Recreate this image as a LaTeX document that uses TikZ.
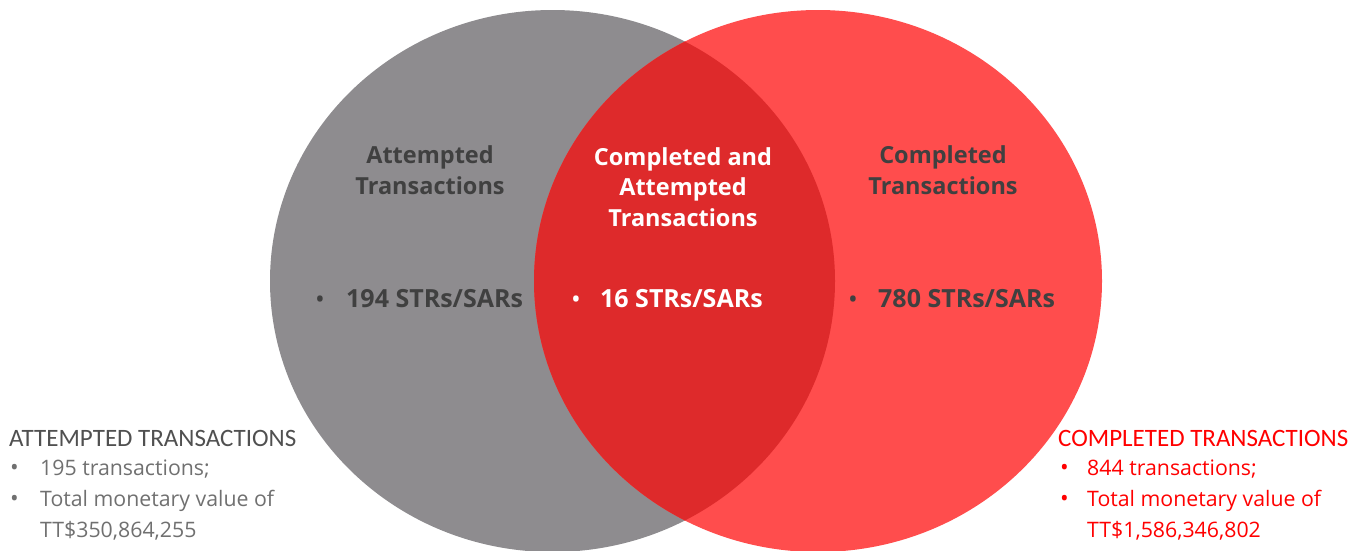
\documentclass[tikz,border=0pt]{standalone}
\usepackage{fontspec}
\setmainfont{Open Sans}
\newfontfamily\headfont{Carlito}
\definecolor{venngray}{RGB}{142,140,143}
\definecolor{vennred}{RGB}{255,77,77}
\definecolor{vennboth}{RGB}{222,42,43}
\definecolor{labeldark}{RGB}{64,64,64}
\definecolor{notegray}{RGB}{80,80,80}
\definecolor{notelight}{RGB}{112,112,112}
\definecolor{notered}{RGB}{255,0,0}
\tikzset{
  setlabel/.style={font=\fontsize{23.5}{30.5}\selectfont\bfseries, align=center, inner sep=0pt, anchor=center},
  countlabel/.style={font=\fontsize{25}{28}\selectfont\bfseries, inner sep=0pt, anchor=west},
  dot/.style={font=\fontsize{26}{28}\selectfont, inner sep=0pt, anchor=center},
  notehead/.style={font=\headfont\fontsize{25}{28}\selectfont, inner sep=0pt, anchor=base west},
  noteline/.style={font=\fontsize{21.3}{24}\selectfont, inner sep=0pt, anchor=base west},
  notedot/.style={font=\fontsize{23}{24}\selectfont, inner sep=0pt, anchor=base west},
}
\begin{document}
\begin{tikzpicture}[x=1pt,y=-1pt]
\useasboundingbox (0,0) rectangle (1361,550);
\clip (0,0) rectangle (1361,550);
% the two sets and their overlap
\fill[venngray] (552.5,281) ellipse [x radius=282.5, y radius=271];
\fill[vennred] (818,281) ellipse [x radius=284, y radius=271];
\begin{scope}
  \clip (552.5,281) ellipse [x radius=282.5, y radius=271];
  \fill[vennboth] (818,281) ellipse [x radius=284, y radius=271];
\end{scope}
% set labels
\node[setlabel, text=labeldark] (att) at (430,170) {Attempted\\Transactions};
\node[setlabel, text=white] (both) at (683,187) {Completed and\\Attempted\\Transactions};
\node[setlabel, text=labeldark] (comp) at (943,170) {Completed\\Transactions};
% counts
\node[dot, text=labeldark] (attdot) at (320,302) {•};
\node[countlabel, text=labeldark] (attcount) at (346,299) {194 STRs/SARs};
\node[dot, text=white] (bothdot) at (576,302) {•};
\node[countlabel, text=white] (bothcount) at (600,299) {16 STRs/SARs};
\node[dot, text=labeldark] (compdot) at (853,302) {•};
\node[countlabel, text=labeldark] (compcount) at (878,299) {780 STRs/SARs};
% notes, attempted
\node[notehead, text=notegray] (atthead) at (9,446) {ATTEMPTED TRANSACTIONS};
\node[notedot, text=notelight] (attb1) at (10,475) {•};
\node[noteline, text=notelight] (attl1) at (40,475) {195 transactions;};
\node[notedot, text=notelight] (attb2) at (10,506) {•};
\node[noteline, text=notelight] (attl2) at (40,506) {Total monetary value of};
\node[noteline, text=notelight] (attl3) at (40,537) {TT\$350,864,255};
% notes, completed
\node[notedot, text=notered] (compb1) at (1060,475) {•};
\node[notehead, text=notered] (comphead) at (1058,446) {COMPLETED TRANSACTIONS};
\node[noteline, text=notered] (compl1) at (1087,475) {844 transactions;};
\node[notedot, text=notered] (compb2) at (1060,506) {•};
\node[noteline, text=notered] (compl2) at (1087,506) {Total monetary value of};
\node[noteline, text=notered] (compl3) at (1087,537) {TT\$1,586,346,802};
\end{tikzpicture}
\end{document}
